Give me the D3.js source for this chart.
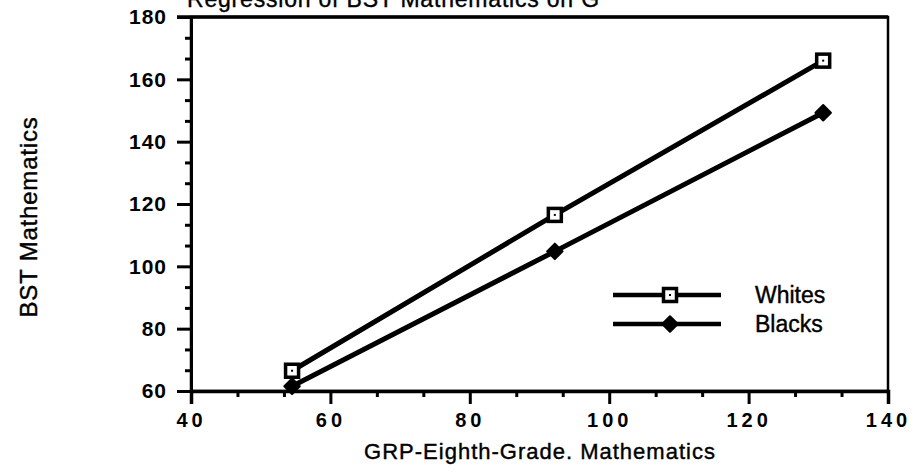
<!DOCTYPE html>
<html>
<head>
<meta charset="utf-8">
<script src="https://cdn.jsdelivr.net/npm/d3@7"></script>
<style>
  html, body { margin: 0; padding: 0; background: #fff; }
  svg { display: block; }
  text { font-family: "Liberation Sans", Arial, Helvetica, sans-serif; fill: #000; }
</style>
</head>
<body>
<svg id="chart" width="917" height="475"></svg>
<script>
// ---- data ----
const xValues = [54.5, 92.2, 130.7];
const whites = [66.5, 116.5, 166.0];
const blacks = [61.5, 104.8, 149.3];
const seriesNames = ["Whites", "Blacks"];
const xTicks = [40, 60, 80, 100, 120, 140];
const yTicks = [60, 80, 100, 120, 140, 160, 180];
const titleText = "Regression of BST Mathematics on G";
const xLabel = "GRP-Eighth-Grade. Mathematics";
const yLabel = "BST Mathematics";

// ---- layout ----
const svg = d3.select("#chart");
const L = 191, R = 888, T = 17, B = 391;
const x = d3.scaleLinear().domain([40, 140]).range([L, R]);
const y = d3.scaleLinear().domain([60, 180]).range([B, T]);
const FONT = "Liberation Sans, Arial, sans-serif";

// title (clipped at top, as in the scanned original)
svg.append("text").attr("x", 187).attr("y", 7)
  .attr("font-size", 23).attr("letter-spacing", 0.8)
  .attr("stroke", "#000").attr("stroke-width", 0.4).text(titleText);

// frame
svg.append("rect").attr("x", L).attr("y", T).attr("width", R - L).attr("height", B - T)
  .attr("fill", "none").attr("stroke", "#000").attr("stroke-width", 2.5);
svg.append("line").attr("x1", L - 14).attr("x2", R).attr("y1", T).attr("y2", T)
  .attr("stroke", "#000").attr("stroke-width", 3.5);

// minor ticks
const xMinor = d3.range(40, 140.01, 20 / 3).filter(v => !xTicks.some(t => Math.abs(t - v) < 0.01));
const yMinor = d3.range(60, 180.01, 20 / 3).filter(v => !yTicks.some(t => Math.abs(t - v) < 0.01));

const xAxis = d3.axisBottom(x).tickValues(xTicks).tickSize(13).tickPadding(9)
  .tickFormat(d3.format("d"));
const gx = svg.append("g").attr("transform", `translate(0,${B})`).call(xAxis);
gx.select(".domain").attr("stroke-width", 3.5);
gx.selectAll(".tick line").attr("stroke-width", 3);
gx.selectAll(".tick text").attr("font-size", 20).attr("font-weight", "bold")
  .attr("letter-spacing", 4).attr("font-family", FONT);
gx.selectAll(".tick").filter(d => d === 140).select("line").remove();
const gxm = svg.append("g").attr("transform", `translate(0,${B})`)
  .call(d3.axisBottom(x).tickValues(xMinor).tickSize(6).tickFormat(""));
gxm.select(".domain").remove();
gxm.selectAll(".tick line").attr("stroke-width", 3);

const yAxis = d3.axisLeft(y).tickValues(yTicks).tickSize(14).tickPadding(10)
  .tickFormat(d3.format("d"));
const gy = svg.append("g").attr("transform", `translate(${L},0)`).call(yAxis);
gy.select(".domain").attr("stroke-width", 3);
gy.selectAll(".tick line").attr("stroke-width", 3);
gy.selectAll(".tick text").attr("font-size", 21).attr("font-weight", "bold")
  .attr("letter-spacing", 1).attr("font-family", FONT);
const gym = svg.append("g").attr("transform", `translate(${L},0)`)
  .call(d3.axisLeft(y).tickValues(yMinor).tickSize(6).tickFormat(""));
gym.select(".domain").remove();
gym.selectAll(".tick line").attr("stroke-width", 3);

// axis labels
svg.append("text").attr("x", 540).attr("y", 459).attr("text-anchor", "middle")
  .attr("font-size", 22).attr("letter-spacing", 1)
  .attr("stroke", "#000").attr("stroke-width", 0.4).text(xLabel);
svg.append("text").attr("transform", "translate(37,217) rotate(-90)")
  .attr("text-anchor", "middle").attr("font-size", 24).attr("letter-spacing", 0.8)
  .attr("stroke", "#000").attr("stroke-width", 0.4).text(yLabel);

// lines
const line = d3.line().x((d, i) => x(xValues[i])).y(d => y(d));
const series = [whites, blacks];
series.forEach(s => {
  svg.append("path").datum(s).attr("d", line)
    .attr("fill", "none").attr("stroke", "#000").attr("stroke-width", 5)
    .attr("stroke-linejoin", "round");
});

function squareMarker(g, cx, cy) {
  g.append("rect").attr("x", cx - 6.5).attr("y", cy - 6.5).attr("width", 13).attr("height", 13)
    .attr("fill", "#fff").attr("stroke", "#000").attr("stroke-width", 3.5);
  g.append("rect").attr("x", cx - 1).attr("y", cy - 1).attr("width", 2).attr("height", 2)
    .attr("fill", "#000");
}
function diamondMarker(g, cx, cy) {
  g.append("path").attr("d", d3.symbol().type(d3.symbolSquare).size(120)())
    .attr("transform", `translate(${cx},${cy}) rotate(45)`).attr("fill", "#000")
    .attr("stroke", "#000").attr("stroke-width", 2).attr("stroke-linejoin", "round");
}

const mk = svg.append("g");
whites.forEach((v, i) => squareMarker(mk, x(xValues[i]), y(v)));
blacks.forEach((v, i) => diamondMarker(mk, x(xValues[i]), y(v)));

// legend
const leg = svg.append("g");
const legY = [295, 324];
legY.forEach((ly, i) => {
  leg.append("line").attr("x1", 613).attr("x2", 721).attr("y1", ly).attr("y2", ly)
    .attr("stroke", "#000").attr("stroke-width", 4.5);
  if (i === 0) squareMarker(leg, 670, ly); else diamondMarker(leg, 670, ly);
  leg.append("text").attr("x", 755).attr("y", ly + 8).attr("font-size", 23)
    .attr("stroke", "#000").attr("stroke-width", 0.4)
    .text(seriesNames[i]);
});
</script>
</body>
</html>
